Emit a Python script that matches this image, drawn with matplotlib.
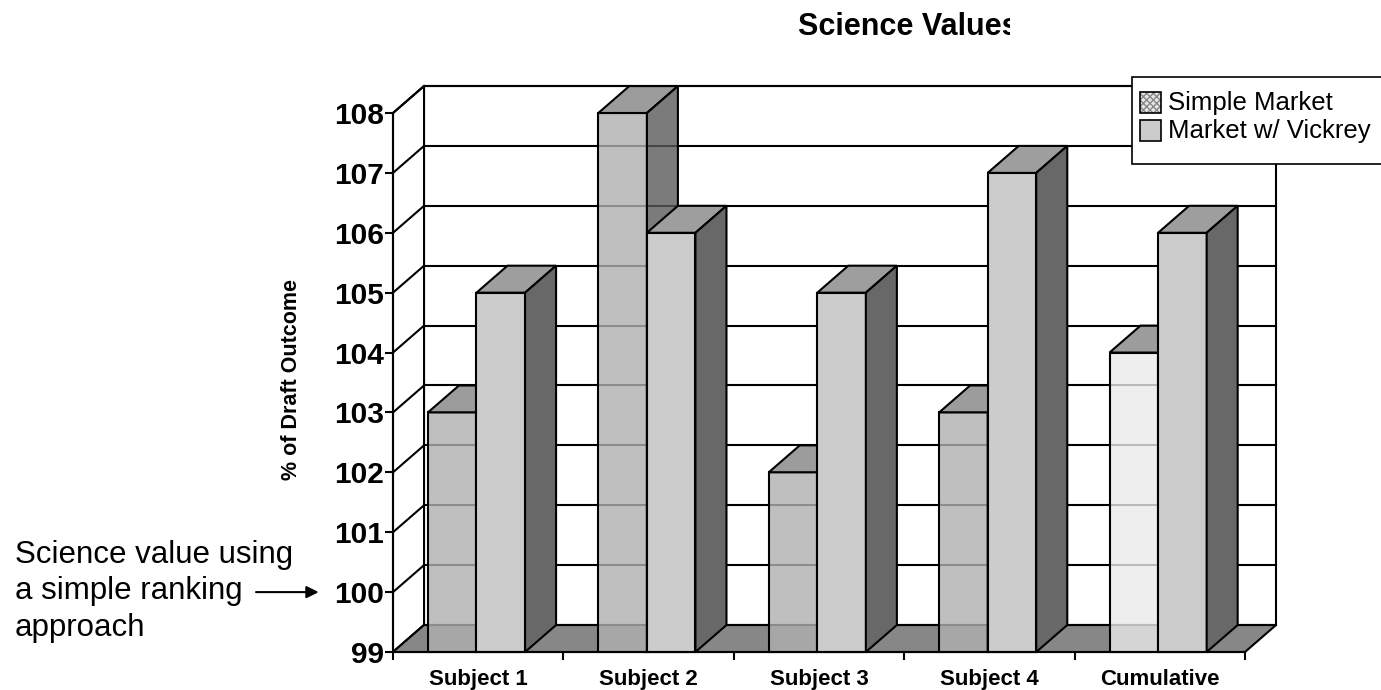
import matplotlib.pyplot as plt
from matplotlib.patches import Polygon, Rectangle
from matplotlib.colors import to_rgba
from matplotlib.transforms import Bbox, TransformedBbox

plt.rcParams["font.family"] = ["Liberation Sans", "DejaVu Sans"]

categories = ["Subject 1", "Subject 2", "Subject 3", "Subject 4", "Cumulative"]
simple_market = [103, 108, 102, 103, 104]
vickrey_market = [105, 106, 105, 107, 106]
y_ticks = list(range(99, 109))

Y_MIN, Y_MAX = 99, 108
DX, DY = 0.182, 0.45  # depth of the pseudo-3D box, in data units
EDGE = 1.5


def box(ax, x0, width, height, front, top, side, alpha=1.0):
    """Draw one extruded bar: front face, top face and right side face."""
    x1 = x0 + width
    faces = [
        ([(x0, Y_MIN), (x1, Y_MIN), (x1, height), (x0, height)], front),
        ([(x0, height), (x1, height), (x1 + DX, height + DY), (x0 + DX, height + DY)], top),
        ([(x1, Y_MIN), (x1 + DX, Y_MIN + DY), (x1 + DX, height + DY), (x1, height)], side),
    ]
    for pts, col in faces:
        ax.add_patch(Polygon(pts, closed=True, facecolor=to_rgba(col, alpha),
                             edgecolor="black", lw=EDGE, clip_on=False, zorder=5))


fig = plt.figure(figsize=(13.81, 6.90), dpi=100)
ax = fig.add_axes([393 / 1381, 38 / 690, 852 / 1381, 539 / 690])
ax.set_xlim(0, len(categories))
ax.set_ylim(Y_MIN, Y_MAX)

n = len(categories)

# back wall and its gridlines
ax.add_patch(Rectangle((DX, Y_MIN + DY), n, Y_MAX - Y_MIN, facecolor="white",
                       edgecolor="black", lw=EDGE, clip_on=False, zorder=1))
for v in y_ticks:
    ax.plot([DX, n + DX], [v + DY, v + DY], color="black", lw=EDGE,
            clip_on=False, zorder=2)

# left wall with diagonal gridlines
ax.add_patch(Polygon([(0, Y_MIN), (DX, Y_MIN + DY), (DX, Y_MAX + DY), (0, Y_MAX)],
                     closed=True, facecolor="white", edgecolor="black", lw=EDGE,
                     clip_on=False, zorder=1))
for v in y_ticks:
    ax.plot([0, DX], [v, v + DY], color="black", lw=EDGE, clip_on=False, zorder=2)

# floor
ax.add_patch(Polygon([(0, Y_MIN), (n, Y_MIN), (n + DX, Y_MIN + DY), (DX, Y_MIN + DY)],
                     closed=True, facecolor="#878787", edgecolor="black", lw=EDGE,
                     clip_on=False, zorder=3))

bar_w = 0.285
for i, (s, v) in enumerate(zip(simple_market, vickrey_market)):
    front = "#eaeaea" if categories[i] == "Cumulative" else "#b0b0b0"
    box(ax, i + 0.205, bar_w, s, front, "#838383", "#5a5a5a", alpha=0.8)
    box(ax, i + 0.205 + bar_w, bar_w, v, "#cccccc", "#9e9e9e", "#686868")

for side in ["top", "right"]:
    ax.spines[side].set_visible(False)
ax.spines["left"].set_linewidth(EDGE)
ax.spines["bottom"].set_linewidth(EDGE)
ax.spines["left"].set_zorder(6)
ax.spines["bottom"].set_zorder(6)

ax.set_yticks(y_ticks)
ax.set_yticklabels([str(t) for t in y_ticks], fontsize=21.5, fontweight="bold")
ax.tick_params(axis="y", length=5.5, width=EDGE, pad=1)

ax.set_xticks(range(n + 1))
ax.set_xticklabels([])
ax.set_xticks([i + 0.5 for i in range(n)], minor=True)
ax.set_xticklabels(categories, minor=True, fontsize=16, fontweight="bold")
ax.tick_params(axis="x", which="major", length=6, width=EDGE)
ax.tick_params(axis="x", which="minor", length=0, pad=12)
ax.patch.set_visible(False)

ax.set_ylabel("% of Draft Outcome", fontsize=15.5, fontweight="bold")
ax.yaxis.set_label_coords((302 - 393) / 852, (652 - 380) / 539)

# title runs past its frame on the right and gets cut off
title = fig.text(908 / 1381, 1 - 35 / 690, "Science Values", fontsize=22,
                 fontweight="bold", ha="center", va="baseline")
title.set_clip_box(TransformedBbox(Bbox([[0, 0], [1010 / 1381, 1]]), fig.transFigure))

# legend box
fig.patches.append(Rectangle((1132 / 1381, 1 - 164 / 690), 260 / 1381, 87 / 690,
                             transform=fig.transFigure, facecolor="white",
                             edgecolor="black", lw=1.2, zorder=10))
fig.patches.append(Rectangle((1140 / 1381, 1 - 113 / 690), 21 / 1381, 21 / 690,
                             transform=fig.transFigure, facecolor="#e6e6e6",
                             edgecolor="#888888", hatch="xxxxx", lw=0, zorder=11))
for y in (113, 141):
    fig.patches.append(Rectangle((1140 / 1381, 1 - y / 690), 21 / 1381, 21 / 690,
                                 transform=fig.transFigure,
                                 facecolor="none" if y == 113 else "#cccccc",
                                 edgecolor="black", lw=1.2, zorder=12))
fig.text(1168 / 1381, 1 - 103 / 690, "Simple Market", fontsize=18.5, va="center", zorder=13)
fig.text(1168 / 1381, 1 - 131 / 690, "Market w/ Vickrey", fontsize=18.5, va="center", zorder=13)

# side note pointing at the 100 level
for j, line in enumerate(["Science value using", "a simple ranking", "approach"]):
    fig.text(15 / 1381, 1 - (555 + 36.5 * j) / 690, line, fontsize=22.5, va="center")
ax.annotate("", xy=(-0.42, 100), xytext=(-0.82, 100),
            arrowprops=dict(arrowstyle="-|>", lw=1.5, color="black", mutation_scale=18),
            annotation_clip=False)

fig.savefig("out.png", dpi=100)
